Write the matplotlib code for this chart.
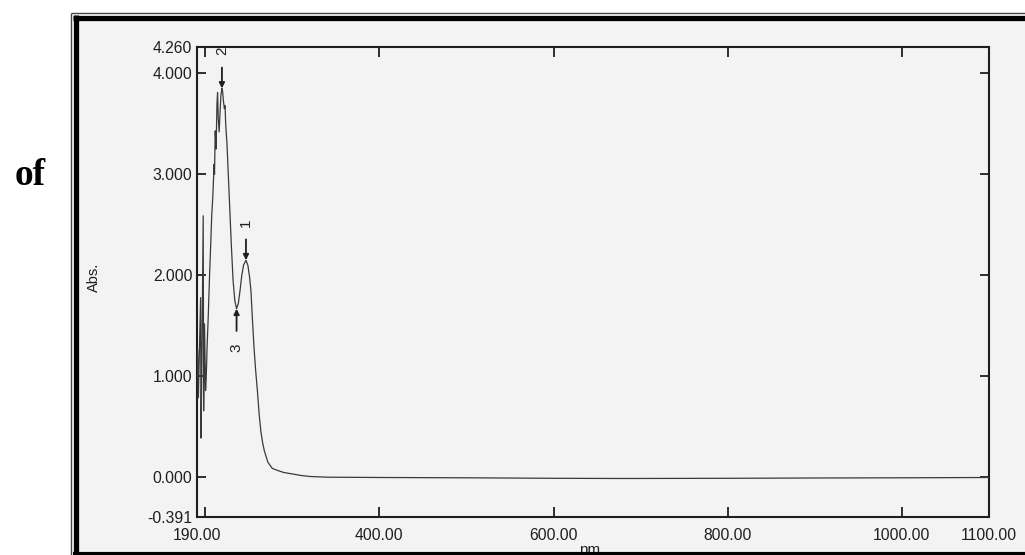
import matplotlib
matplotlib.use("Agg")
import matplotlib.pyplot as plt
from matplotlib.lines import Line2D
from matplotlib.patches import Rectangle

# ---- data ----
wavelength_nm = [190.0, 191.4, 192.2, 193.2, 194.7, 195.2, 196.2, 197.7, 198.2, 199.2,
                 200.4, 201.2, 202.2, 203.5, 205.0, 206.5, 207.5, 208.5, 209.3, 210.2,
                 210.7, 211.5, 212.5, 213.5, 214.2, 215.0, 216.0, 217.0, 218.0, 219.2,
                 220.0, 221.0, 222.0, 222.8, 223.5, 225.0, 226.5, 228.0, 230.0, 232.0,
                 234.0, 236.0, 238.0, 240.0, 242.0, 244.0, 246.8, 249.0, 251.0, 252.5,
                 254.0, 256.0, 258.0, 260.0, 262.0, 264.0, 266.0, 268.0, 272.0, 277.0,
                 283.0, 290.0, 300.0, 310.0, 320.0, 340.0, 400.0, 500.0, 600.0, 680.0,
                 800.0, 900.0, 1000.0, 1100.0]
absorbance = [0.95, 1.26, 0.79, 1.20, 1.78, 0.39, 1.20, 2.59, 0.66, 1.52,
              0.86, 1.00, 1.30, 1.60, 2.00, 2.35, 2.60, 2.74, 2.90, 3.10,
              3.00, 3.43, 3.25, 3.70, 3.81, 3.55, 3.42, 3.60, 3.78, 3.85,
              3.82, 3.72, 3.65, 3.68, 3.50, 3.30, 3.00, 2.70, 2.30, 1.95,
              1.75, 1.67, 1.72, 1.85, 2.00, 2.10, 2.15, 2.10, 1.98, 1.85,
              1.60, 1.29, 1.05, 0.85, 0.62, 0.45, 0.34, 0.26, 0.15, 0.09,
              0.07, 0.05, 0.035, 0.02, 0.01, 0.003, 0.0, -0.003, -0.008, -0.010,
              -0.008, -0.005, -0.003, 0.0]

peak_labels = ["1", "2", "3"]
peak_nm = [246.8, 219.2, 236.0]
peak_abs = [2.15, 3.85, 1.67]
peak_dir = ["down", "down", "up"]   # arrow points down onto peaks, up onto valley

xtick_values = [190, 200, 400, 600, 800, 1000, 1100]
xtick_labels = ["190.00", "", "400.00", "600.00", "800.00", "1000.00", "1100.00"]
ytick_values = [-0.391, 0.0, 1.0, 2.0, 3.0, 4.0, 4.260]
ytick_labels = ["-0.391", "0.000", "1.000", "2.000", "3.000", "4.000", "4.260"]

W, H = 1025, 555
fig = plt.figure(figsize=(W / 100, H / 100), dpi=100)
fig.patch.set_facecolor("white")

def fx(px):
    return px / W

def fy(py):
    return 1 - py / H

# paper background inside frame
fig.add_artist(Rectangle((fx(76), fy(555)), fx(W) - fx(76), fy(17) - fy(555),
                         transform=fig.transFigure, facecolor="#f3f3f3",
                         edgecolor="none", zorder=0))

ax = fig.add_axes([fx(196.5), fy(517), fx(989) - fx(196.5), fy(47) - fy(517)])
ax.set_facecolor("none")
ax.plot(wavelength_nm, absorbance, color="#3a3a3a", lw=0.9, zorder=3)
ax.set_xlim(190, 1100)
ax.set_ylim(-0.391, 4.260)

txtfont = dict(family=["Liberation Sans", "DejaVu Sans"])
ax.set_xticks(xtick_values)
ax.set_xticklabels(xtick_labels, fontsize=11.3, color="#1e1e1e", **txtfont)
ax.set_yticks(ytick_values)
ax.set_yticklabels(ytick_labels, fontsize=11.3, color="#1e1e1e", **txtfont)
ax.tick_params(axis="x", direction="in", length=7, width=1.3, top=True,
               bottom=True, pad=8, color="#1e1e1e")
ax.tick_params(axis="y", direction="in", length=6.5, width=1.3, left=True,
               right=True, pad=3, color="#1e1e1e")
for s in ax.spines.values():
    s.set_linewidth(1.5)
    s.set_color("#1e1e1e")

# peak markers
for lab, xn, yv, d in zip(peak_labels, peak_nm, peak_abs, peak_dir):
    off = 15 if d == "down" else -16
    ax.annotate("", xy=(xn, yv), xytext=(0, off), textcoords="offset points",
                arrowprops=dict(arrowstyle="-|>", color="#1e1e1e", lw=1.3,
                                mutation_scale=8, shrinkA=0, shrinkB=0))
    toff = 27 if d == "down" else -28
    ax.annotate(lab, xy=(xn, yv), xytext=(0, toff), textcoords="offset points",
                ha="center", va="center", rotation=90, fontsize=11,
                color="#1e1e1e", **txtfont)

# axis titles
fig.text(fx(94), fy(277), "Abs.", rotation=90, ha="center", va="center",
         fontsize=10.5, color="#1e1e1e", **txtfont)
fig.text(fx(592), fy(543), "nm.", ha="center", va="top", fontsize=11,
         color="#1e1e1e", zorder=1, **txtfont)

# "of" text outside the frame
fig.text(fx(30), fy(185), "of", ha="center", va="baseline", fontsize=27,
         fontweight="bold", color="black",
         family=["Liberation Serif", "DejaVu Serif"])

# frame (thin outer + thick inner)
def fline(x0, y0, x1, y1, lw, color="black"):
    fig.add_artist(Line2D([fx(x0), fx(x1)], [fy(y0), fy(y1)],
                          transform=fig.transFigure, color=color, lw=lw,
                          solid_capstyle="butt", zorder=10))

fline(71, 13, 71, 560, 1.0, "#444444")
fline(71, 13, 1030, 13, 1.0, "#444444")
fline(75.5, 15, 75.5, 560, 3.8)
fline(73, 17.5, 1030, 17.5, 3.8)
fline(73, 553.5, 1030, 553.5, 3.0)

fig.savefig("out.png", dpi=100)
